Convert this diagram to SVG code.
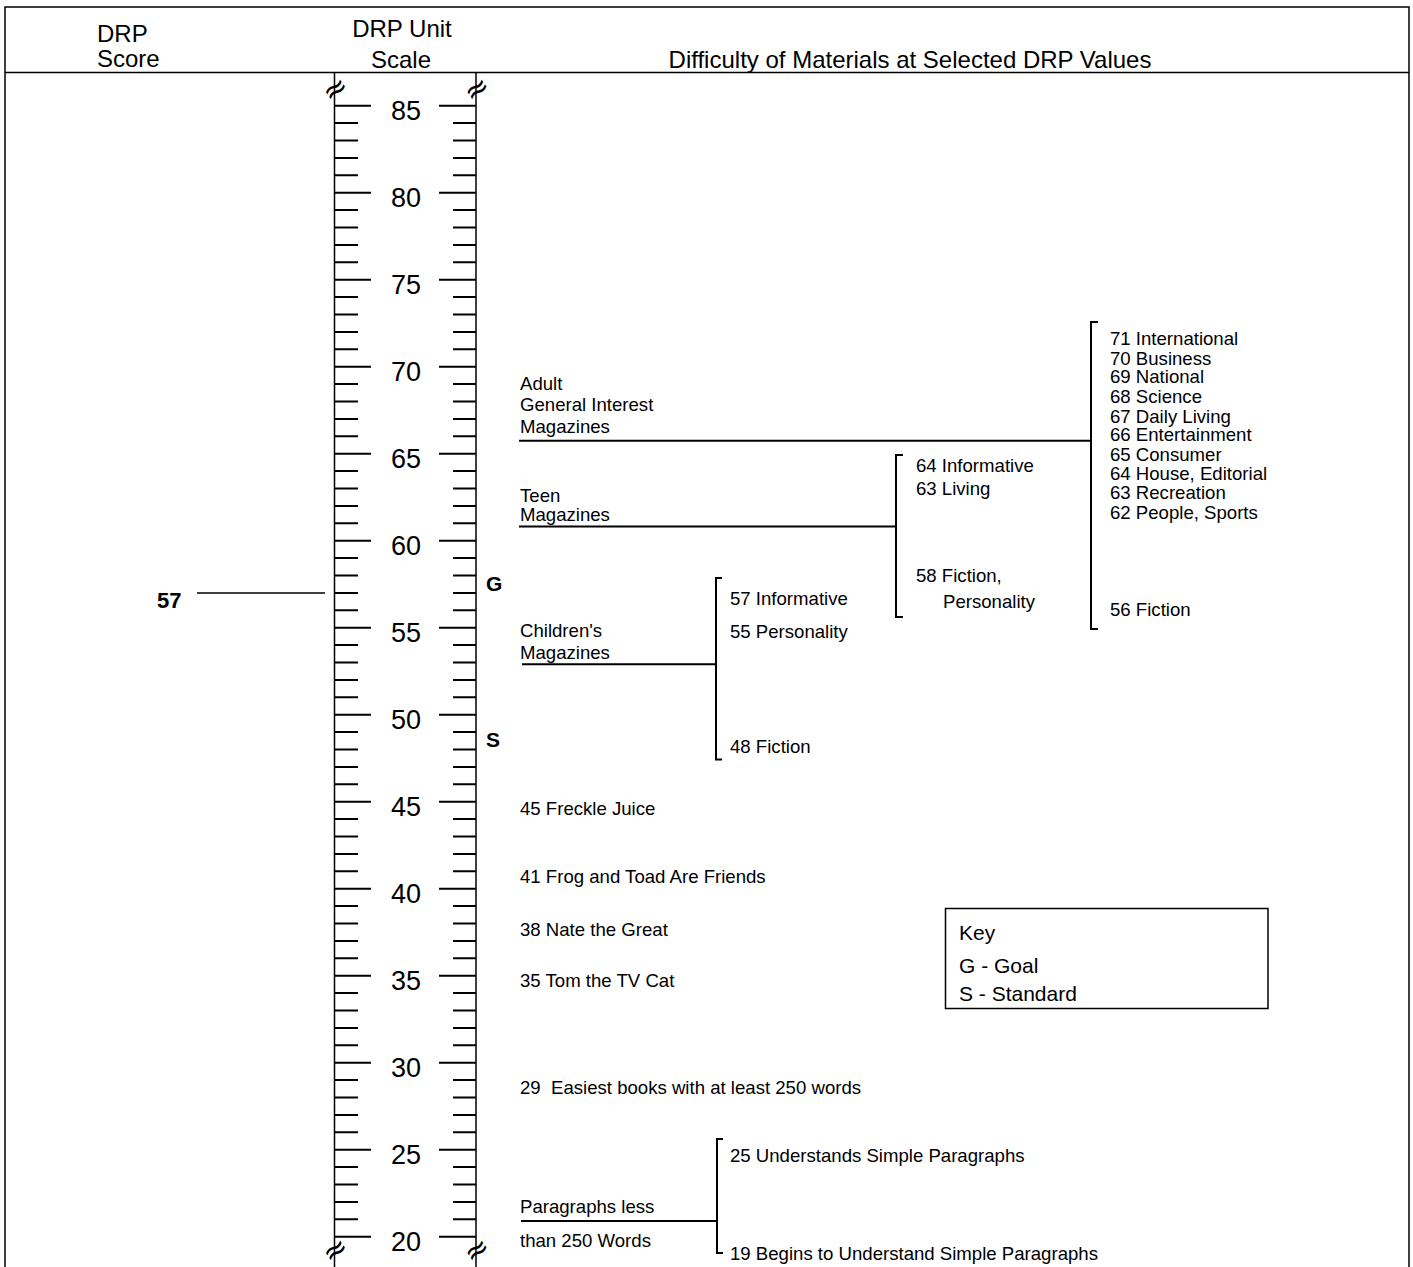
<svg xmlns="http://www.w3.org/2000/svg" width="1413" height="1267" viewBox="0 0 1413 1267">
<style>
text{font-family:"Liberation Sans",Arial,sans-serif;fill:#000}
.h{font-size:24px}
.s{font-size:18.6px}
.n{font-size:27px;text-anchor:middle}
.b{font-weight:bold}
.k{font-size:21px}
.ln{stroke:#000;fill:none}
.brk{font-family:"DejaVu Sans",sans-serif;font-size:30px;text-anchor:middle}
</style>
<rect width="1413" height="1267" fill="#fff"/>
<g id="frame" class="ln" stroke-width="1.5">
<path d="M5,1267 V7 H1409 V1267"/>
<path d="M5,72.5 H1409"/>
</g>
<g id="header">
<text class="h" x="97" y="42">DRP</text>
<text class="h" x="97" y="67">Score</text>
<text class="h" x="402" y="37" text-anchor="middle">DRP Unit</text>
<text class="h" x="401" y="68" text-anchor="middle">Scale</text>
<text class="h" x="910" y="68" text-anchor="middle">Difficulty of Materials at Selected DRP Values</text>
</g>
<g id="scale">
<path class="ln" stroke-width="1.5" d="M334.5,73 V1267 M476,73 V1267"/>
<path class="ln" stroke-width="2" d="M334,105.7h37M334,192.7h37M334,279.7h37M334,366.7h37M334,453.7h37M334,540.7h37M334,627.7h37M334,714.7h37M334,801.7h37M334,888.7h37M334,975.7h37M334,1062.7h37M334,1149.7h37M334,1236.7h37
M439,105.7h37M439,192.7h37M439,279.7h37M439,366.7h37M439,453.7h37M439,540.7h37M439,627.7h37M439,714.7h37M439,801.7h37M439,888.7h37M439,975.7h37M439,1062.7h37M439,1149.7h37M439,1236.7h37"/>
<path class="ln" stroke-width="2" d="M334,123.1h24M334,140.5h24M334,157.9h24M334,175.3h24M334,210.1h24M334,227.5h24M334,244.9h24M334,262.3h24M334,297.1h24M334,314.5h24M334,331.9h24M334,349.3h24M334,384.1h24M334,401.5h24M334,418.9h24M334,436.3h24M334,471.1h24M334,488.5h24M334,505.9h24M334,523.3h24M334,558.1h24M334,575.5h24M334,592.9h24M334,610.3h24M334,645.1h24M334,662.5h24M334,679.9h24M334,697.3h24M334,732.1h24M334,749.5h24M334,766.9h24M334,784.3h24M334,819.1h24M334,836.5h24M334,853.9h24M334,871.3h24M334,906.1h24M334,923.5h24M334,940.9h24M334,958.3h24M334,993.1h24M334,1010.5h24M334,1027.9h24M334,1045.3h24M334,1080.1h24M334,1097.5h24M334,1114.9h24M334,1132.3h24M334,1167.1h24M334,1184.5h24M334,1201.9h24M334,1219.3h24
M453,123.1h23M453,140.5h23M453,157.9h23M453,175.3h23M453,210.1h23M453,227.5h23M453,244.9h23M453,262.3h23M453,297.1h23M453,314.5h23M453,331.9h23M453,349.3h23M453,384.1h23M453,401.5h23M453,418.9h23M453,436.3h23M453,471.1h23M453,488.5h23M453,505.9h23M453,523.3h23M453,558.1h23M453,575.5h23M453,592.9h23M453,610.3h23M453,645.1h23M453,662.5h23M453,679.9h23M453,697.3h23M453,732.1h23M453,749.5h23M453,766.9h23M453,784.3h23M453,819.1h23M453,836.5h23M453,853.9h23M453,871.3h23M453,906.1h23M453,923.5h23M453,940.9h23M453,958.3h23M453,993.1h23M453,1010.5h23M453,1027.9h23M453,1045.3h23M453,1080.1h23M453,1097.5h23M453,1114.9h23M453,1132.3h23M453,1167.1h23M453,1184.5h23M453,1201.9h23M453,1219.3h23"/>
<text class="n" x="406" y="119.7">85</text>
<text class="n" x="406" y="206.7">80</text>
<text class="n" x="406" y="293.7">75</text>
<text class="n" x="406" y="380.7">70</text>
<text class="n" x="406" y="467.7">65</text>
<text class="n" x="406" y="554.7">60</text>
<text class="n" x="406" y="641.7">55</text>
<text class="n" x="406" y="728.7">50</text>
<text class="n" x="406" y="815.7">45</text>
<text class="n" x="406" y="902.7">40</text>
<text class="n" x="406" y="989.7">35</text>
<text class="n" x="406" y="1076.7">30</text>
<text class="n" x="406" y="1163.7">25</text>
<text class="n" x="406" y="1250.7">20</text>
<text class="brk" x="334.5" y="99" transform="rotate(-35 334.5 88)">≈</text>
<text class="brk" x="476" y="99" transform="rotate(-35 476 88)">≈</text>
<text class="brk" x="334.5" y="1260" transform="rotate(-35 334.5 1249)">≈</text>
<text class="brk" x="476" y="1260" transform="rotate(-35 476 1249)">≈</text>
</g>
<g id="score57"><text class="b" x="157" y="608" font-size="22">57</text></g>
<g id="markG"><text class="b" x="486" y="591" font-size="21">G</text></g>
<g id="markS"><text class="b" x="486" y="747" font-size="21">S</text></g>
<g id="connectors" class="ln" stroke-width="2">
<path d="M197,593 H325" stroke-width="1.5"/>
<path d="M519,440.7 H1091"/>
<path d="M519,526.5 H896"/>
<path d="M522,664.3 H716"/>
<path d="M521,1221 H717"/>
<path d="M1098,322 H1091 V629 H1098"/>
<path d="M903,455 H896 V617 H903"/>
<path d="M722,578 H716 V759.5 H722"/>
<path d="M723,1139 H717 V1253 H723"/>
</g>
<g id="adult">
<text class="s" x="520" y="390">Adult</text>
<text class="s" x="520" y="411">General Interest</text>
<text class="s" x="520" y="432.5">Magazines</text>
</g>
<g id="adult-list">
<text class="s" x="1110" y="345">71 International</text>
<text class="s" x="1110" y="365">70 Business</text>
<text class="s" x="1110" y="383.3">69 National</text>
<text class="s" x="1110" y="402.7">68 Science</text>
<text class="s" x="1110" y="423">67 Daily Living</text>
<text class="s" x="1110" y="441">66 Entertainment</text>
<text class="s" x="1110" y="460.7">65 Consumer</text>
<text class="s" x="1110" y="480">64 House, Editorial</text>
<text class="s" x="1110" y="499.3">63 Recreation</text>
<text class="s" x="1110" y="519.3">62 People, Sports</text>
<text class="s" x="1110" y="615.7">56 Fiction</text>
</g>
<g id="teen">
<text class="s" x="520" y="501.7">Teen</text>
<text class="s" x="520" y="520.7">Magazines</text>
</g>
<g id="teen-list">
<text class="s" x="916" y="472.3">64 Informative</text>
<text class="s" x="916" y="495">63 Living</text>
<text class="s" x="916" y="581.7">58 Fiction,</text>
<text class="s" x="943" y="608.3">Personality</text>
</g>
<g id="children">
<text class="s" x="520" y="637">Children's</text>
<text class="s" x="520" y="659">Magazines</text>
</g>
<g id="children-list">
<text class="s" x="730" y="605">57 Informative</text>
<text class="s" x="730" y="638.3">55 Personality</text>
<text class="s" x="730" y="752.7">48 Fiction</text>
</g>
<g id="books">
<text class="s" x="520" y="814.5">45 Freckle Juice</text>
<text class="s" x="520" y="882.5">41 Frog and Toad Are Friends</text>
<text class="s" x="520" y="935.5">38 Nate the Great</text>
<text class="s" x="520" y="986.5">35 Tom the TV Cat</text>
<text class="s" x="520" y="1093.5" xml:space="preserve">29  Easiest books with at least 250 words</text>
</g>
<g id="paragraphs">
<text class="s" x="520" y="1212.7">Paragraphs less</text>
<text class="s" x="520" y="1246.7">than 250 Words</text>
</g>
<g id="paragraphs-list">
<text class="s" x="730" y="1161.7">25 Understands Simple Paragraphs</text>
<text class="s" x="730" y="1260">19 Begins to Understand Simple Paragraphs</text>
</g>
<g id="key">
<rect class="ln" x="945.5" y="908.5" width="322.5" height="100" stroke-width="1.5"/>
<text class="k" x="959" y="940">Key</text>
<text class="k" x="959" y="972.5">G - Goal</text>
<text class="k" x="959" y="1000.5">S - Standard</text>
</g>
</svg>
